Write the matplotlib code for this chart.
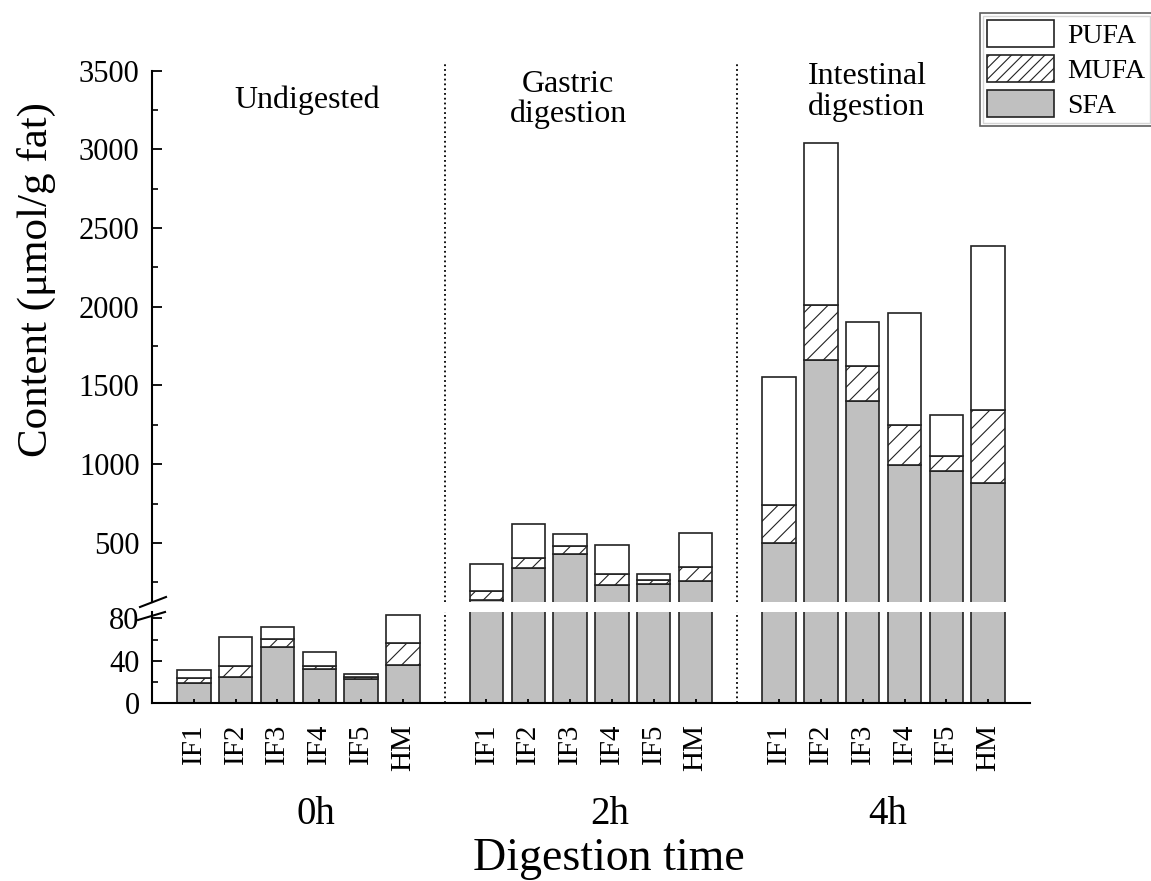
import numpy as np
import matplotlib
matplotlib.use('Agg')
import matplotlib.pyplot as plt
import matplotlib.transforms as mtransforms
from matplotlib.patches import Patch, Rectangle
from matplotlib.lines import Line2D

# 数据 (μmol/g fat), 每组: IF1..IF5, HM
samples = ['IF1', 'IF2', 'IF3', 'IF4', 'IF5', 'HM']
times = ['0h', '2h', '4h']
stages = ['Undigested', 'Gastric\ndigestion', 'Intestinal\ndigestion']

sfa_0h = [19, 25, 53, 32, 22.5, 35.5]
mufa_0h = [4.5, 10, 7.5, 2.5, 2, 21]
pufa_0h = [8, 27, 11.5, 13.5, 2.5, 27]

sfa_2h = [135, 343, 428, 233, 240, 261]
mufa_2h = [60, 60, 55, 68, 25, 89]
pufa_2h = [172, 218, 74, 186, 36, 212]

sfa_4h = [502, 1662, 1404, 993, 959, 879]
mufa_4h = [239, 349, 222, 256, 95, 465]
pufa_4h = [811, 1031, 275, 711, 259, 1042]

sfa = [sfa_0h, sfa_2h, sfa_4h]
mufa = [mufa_0h, mufa_2h, mufa_4h]
pufa = [pufa_0h, pufa_2h, pufa_4h]

plt.rcParams['font.family'] = ['Liberation Serif', 'DejaVu Serif']
plt.rcParams['hatch.linewidth'] = 0.8

GRAY = '#c0c0c0'
EDGE = '#222222'
W, H = 1151, 881

fig = plt.figure(figsize=(W / 100, H / 100), dpi=100)
ax_top = fig.add_axes([152 / W, 1 - 602 / H, 878 / W, 531.5 / H])
ax_bot = fig.add_axes([152 / W, 1 - 703 / H, 878 / W, 91 / H])

gap = len(samples) + 1
for ax in (ax_top, ax_bot):
    for g in range(len(times)):
        x = np.arange(len(samples)) + gap * g
        s = np.array(sfa[g], dtype=float)
        m = np.array(mufa[g], dtype=float)
        p = np.array(pufa[g], dtype=float)
        ax.bar(x, s, width=0.8, color=GRAY, edgecolor=EDGE, linewidth=1.2)
        ax.bar(x, m, bottom=s, width=0.8, color='white', edgecolor=EDGE,
               linewidth=1.2, hatch='//')
        ax.bar(x, p, bottom=s + m, width=0.8, color='white', edgecolor=EDGE,
               linewidth=1.2)
    ax.set_xlim(-1, gap * len(times) - 1)
    ax.spines['top'].set_visible(False)
    ax.spines['right'].set_visible(False)
    for sp in ax.spines.values():
        sp.set_linewidth(1.5)
    ax.tick_params(axis='y', which='major', direction='in', length=7, width=1.3,
                   labelsize=22, pad=9)
    ax.tick_params(axis='y', which='minor', direction='in', length=4, width=1.2)

# 分隔虚线
for g in range(1, len(times)):
    ax_top.axvline(gap * g - 1, ymax=1.015, color='black', linestyle=':',
                   linewidth=1.3, clip_on=False)
    ax_bot.axvline(gap * g - 1, color='black', linestyle=':', linewidth=1.3)

# 上半部分
ax_top.set_ylim(125, 3500)
ax_top.set_yticks(np.arange(500, 3501, 500))
ax_top.set_yticks(np.arange(250, 3501, 250), minor=True)
ax_top.spines['bottom'].set_visible(False)
ax_top.tick_params(axis='x', bottom=False, labelbottom=False)

# 下半部分
ax_bot.set_ylim(0, 86)
ax_bot.set_yticks([0, 40, 80])
ax_bot.set_yticks([20, 60], minor=True)
xt = np.concatenate([np.arange(len(samples)) + gap * g for g in range(len(times))])
ax_bot.set_xticks(xt)
ax_bot.set_xticklabels(samples * len(times), rotation=90, fontsize=21)
ax_bot.tick_params(axis='x', direction='in', length=3, width=1.3, pad=15)

# 断轴标记
def px(x, y):
    return x / W, 1 - y / H

for (x0, y0, x1, y1) in [(140, 607, 166, 597), (138, 620, 165, 612)]:
    a, b = px(x0, y0)
    c, d = px(x1, y1)
    fig.add_artist(Line2D([a, c], [b, d], color='black', linewidth=1.5,
                          transform=fig.transFigure))

# 阶段标签
stage_x = [2.7, 8.95, 16.1]
stage_y = [3310, 3315, 3365]
for sx, sy, lab in zip(stage_x, stage_y, stages):
    ax_top.text(sx, sy, lab, ha='center', va='center', fontsize=23,
                linespacing=1.05)

# 时间标签
blend = mtransforms.blended_transform_factory(ax_bot.transData, fig.transFigure)
time_x = [2.93, 9.94, 16.6]
for tx, lab in zip(time_x, times):
    fig.text(tx, 1 - 814 / H, lab, transform=blend, ha='center', va='center',
             fontsize=28)

fig.text(609 / W, 1.5 / H, 'Digestion time', ha='center', va='bottom',
         fontsize=33)
fig.text(36 / W, 1 - 280 / H, 'Content (μmol/g fat)', rotation=90,
         ha='center', va='center', fontsize=31)

# 图例
handles = [Patch(facecolor='white', edgecolor=EDGE, linewidth=1.2),
           Patch(facecolor='white', edgecolor=EDGE, linewidth=1.2, hatch='///'),
           Patch(facecolor=GRAY, edgecolor=EDGE, linewidth=1.2)]
leg = fig.legend(handles, ['PUFA', 'MUFA', 'SFA'], loc='upper left',
                 bbox_to_anchor=(980 / W, 1 - 13 / H), frameon=True,
                 fancybox=False, edgecolor='#333333', fontsize=20,
                 handlelength=2.4, handleheight=1.12, labelspacing=0.22,
                 handletextpad=0.5, borderpad=0.25, borderaxespad=0)
leg.get_frame().set_linewidth(1.2)

fig.canvas.draw()
bb = leg.get_frame().get_window_extent()
inv = fig.transFigure.inverted()
(ix0, iy0) = inv.transform((bb.x0 + 3, bb.y0 + 3))
(ix1, iy1) = inv.transform((bb.x1 - 3, bb.y1 - 3))
fig.add_artist(Rectangle((ix0, iy0), ix1 - ix0, iy1 - iy0, fill=False,
                         edgecolor='#333333', linewidth=1.0,
                         transform=fig.transFigure))

fig.savefig('out.png', dpi=100)
